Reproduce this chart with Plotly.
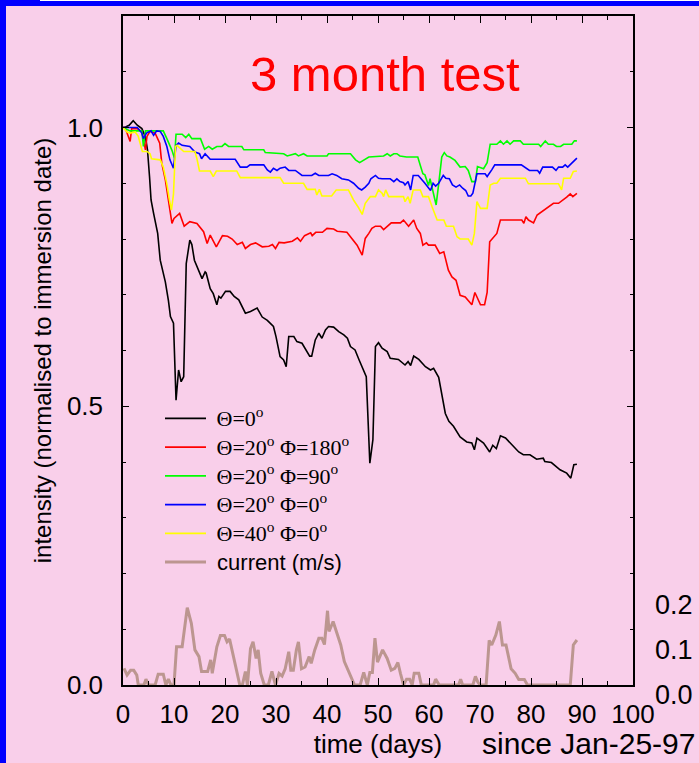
import plotly.graph_objects as go

# ---------------- data ----------------
DAYS_T0 = [0, 0.5, 1.2, 2, 2.8, 3.7, 4.4, 4.8, 5.2, 5.5, 6, 6.8, 7.3, 8.3, 8.9, 9.3, 9.9, 10.4, 10.9, 11.4,
           11.9, 12.4, 13.1, 13.5, 14, 15.5, 16.1, 16.3, 17.1, 17.7, 18.4, 18.8, 19.2, 20.1, 21, 21.8, 22.7, 24,
           25, 26.3, 27.3, 28.3, 29.5, 30, 30.8, 31.5, 32, 32.5, 33.5, 34.1, 35.1, 35.7, 36.6, 37, 37.7, 38.4,
           39, 39.7, 40.3, 41.3, 42.3, 43.3, 44, 44.6, 45.5, 46.3, 47.2, 47.7, 48.4, 49, 49.5, 50.1, 50.8, 51.8,
           52.4, 54, 55.3, 55.9, 56.4, 57, 58, 59.3, 60.3, 60.9, 61.9, 63.2, 63.9, 64.8, 66.1, 67.4, 68.4, 68.9,
           69.4, 70.7, 71.9, 72.5, 73.2, 74, 75, 76.3, 77.6, 78.5, 79.8, 81.1, 82.4, 82.7, 84, 85.7, 87, 87.8,
           88.4, 89]
VAL_T0 = [1.0, 1.001, 1.004, 1.012, 1.004, 0.998, 0.983, 0.96, 0.912, 0.87, 0.846, 0.81, 0.762, 0.723, 0.69,
          0.661, 0.649, 0.511, 0.565, 0.544, 0.553, 0.756, 0.798, 0.79, 0.762, 0.729, 0.741, 0.739, 0.711, 0.702,
          0.682, 0.697, 0.694, 0.706, 0.706, 0.697, 0.691, 0.667, 0.67, 0.676, 0.66, 0.654, 0.643, 0.625, 0.589,
          0.583, 0.571, 0.625, 0.625, 0.616, 0.613, 0.604, 0.59, 0.59, 0.619, 0.631, 0.622, 0.637, 0.643, 0.642,
          0.634, 0.628, 0.622, 0.607, 0.601, 0.583, 0.565, 0.553, 0.398, 0.44, 0.607, 0.614, 0.604, 0.598, 0.586,
          0.584, 0.574, 0.58, 0.573, 0.59, 0.584, 0.571, 0.565, 0.568, 0.552, 0.487, 0.473, 0.464, 0.445, 0.436,
          0.434, 0.422, 0.443, 0.434, 0.418, 0.43, 0.424, 0.447, 0.443, 0.43, 0.418, 0.413, 0.413, 0.405, 0.407,
          0.401, 0.399, 0.386, 0.38, 0.371, 0.395, 0.396]

DAYS_T20_P180 = [0, 0.4, 1.4, 1.7, 2.8, 3.7, 4.4, 4.7, 5.3, 6.3, 7.2, 7.6, 8.3, 8.9, 9.6, 10, 11.1, 12, 13.1,
                 14.5, 15.8, 16.5, 17.1, 18.3, 19.5, 20.5, 21.4, 22.4, 23.4, 24, 25, 26, 27.3, 28.6, 29.3, 29.9,
                 30.6, 31.6, 33.2, 34.2, 34.8, 35.6, 36.8, 37.1, 37.8, 39.1, 40, 41.3, 42, 43.9, 44.7, 45.9, 46.9,
                 47.5, 48.2, 48.8, 49.5, 50.5, 51.1, 51.8, 52.6, 54.4, 55, 56, 57, 57.6, 58.3, 58.8, 59.5, 59.9,
                 61.2, 62.1, 62.9, 63.8, 64.5, 65.3, 66.1, 67.1, 68.4, 69, 70.1, 70.9, 71.4, 71.9, 73.3, 74, 78.2,
                 78.6, 79, 79.5, 80.5, 81.2, 82.1, 83.1, 84.4, 85.4, 86.4, 87, 87.7, 88.2, 89]
VAL_T20_P180 = [1.0, 1.0, 0.975, 0.998, 0.998, 0.992, 0.96, 0.984, 0.993, 0.99, 0.972, 0.936, 0.906, 0.87, 0.828,
                0.837, 0.846, 0.823, 0.831, 0.828, 0.813, 0.792, 0.807, 0.786, 0.806, 0.805, 0.8, 0.79, 0.794,
                0.783, 0.79, 0.793, 0.786, 0.787, 0.79, 0.783, 0.794, 0.793, 0.796, 0.802, 0.796, 0.806, 0.811,
                0.806, 0.812, 0.812, 0.819, 0.818, 0.814, 0.812, 0.802, 0.789, 0.771, 0.801, 0.81, 0.819, 0.823,
                0.823, 0.817, 0.823, 0.829, 0.829, 0.834, 0.823, 0.834, 0.819, 0.81, 0.789, 0.793, 0.789, 0.789,
                0.774, 0.777, 0.744, 0.732, 0.726, 0.699, 0.696, 0.682, 0.704, 0.682, 0.682, 0.704, 0.795, 0.81,
                0.834, 0.834, 0.828, 0.84, 0.834, 0.829, 0.843, 0.849, 0.855, 0.864, 0.864, 0.87, 0.875, 0.881,
                0.876, 0.882]

DAYS_T20_P90 = [0, 1.4, 3.7, 4, 4.4, 7.9, 8.6, 9.6, 10.1, 10.4, 11.6, 12.3, 12.9, 13.5, 15.2, 16, 16.8, 17.5, 18.4,
                19.4, 20, 20.7, 23.3, 23.7, 27.6, 27.9, 31.5, 32.2, 33.8, 34.4, 35.4, 36.1, 40, 40.3, 44.6, 45.6,
                46.4, 47.2, 48.2, 51.1, 51.8, 52.4, 53.1, 53.7, 54.3, 55.6, 57.8, 58.3, 58.8, 59.2, 59.9, 60.2,
                61.4, 61.9, 62.5, 63, 63.5, 64.1, 65.1, 66.1, 67.1, 67.7, 68.4, 69.1, 69.5, 70.7, 71.4, 72, 73.3,
                74, 74.6, 75.3, 75.9, 76.6, 77.9, 78.5, 81.5, 81.9, 82.8, 83.4, 84.4, 85, 85.8, 86.4, 88, 88.5, 89]
VAL_T20_P90 = [1.0, 0.994, 0.994, 0.966, 0.994, 0.994, 0.98, 0.959, 0.945, 0.988, 0.988, 0.982, 0.988, 0.98,
               0.98, 0.961, 0.966, 0.961, 0.966, 0.966, 0.971, 0.966, 0.966, 0.96, 0.96, 0.955, 0.953, 0.949, 0.953,
               0.949, 0.953, 0.949, 0.949, 0.953, 0.953, 0.942, 0.937, 0.942, 0.947, 0.949, 0.953, 0.949, 0.953,
               0.953, 0.949, 0.947, 0.947, 0.932, 0.917, 0.915, 0.896, 0.908, 0.861, 0.899, 0.947, 0.955, 0.949,
               0.947, 0.941, 0.929, 0.93, 0.923, 0.903, 0.903, 0.93, 0.926, 0.937, 0.97, 0.97, 0.976, 0.97, 0.976,
               0.97, 0.976, 0.976, 0.97, 0.97, 0.966, 0.976, 0.97, 0.97, 0.966, 0.966, 0.97, 0.97, 0.976, 0.976]

DAYS_T20_P0 = [0, 2.8, 3.7, 4, 4.6, 5.5, 6, 6.6, 7.3, 7.9, 8.6, 9.2, 9.9, 10.4, 10.9, 11.6, 13.1, 14.1, 15, 15.4,
               16.1, 17.1, 22, 23, 24.3, 24.9, 27.6, 28.3, 28.9, 29.5, 30.2, 30.8, 31.8, 32.5, 33.8, 34.4, 35.1,
               37, 37.7, 38.4, 40.3, 41, 41.9, 42.9, 44.2, 45.2, 46.2, 46.8, 47.5, 48.2, 48.6, 49.5, 50.1, 50.8,
               52.4, 53.1, 53.7, 54.3, 55, 55.3, 55.9, 56.4, 56.9, 57.9, 58.5, 59.2, 60.3, 60.8, 61.3, 61.9, 62.8,
               63.3, 64, 64.6, 65.3, 66, 66.6, 67.2, 67.7, 68.2, 68.6, 69.4, 71, 71.4, 72.3, 72.9, 78.1, 78.7,
               79.7, 81.3, 81.7, 82.3, 84.2, 84.9, 85.4, 86.2, 86.7, 87.2, 87.8, 89]
VAL_T20_P0 = [1.0, 1.0, 0.99, 0.98, 0.99, 0.994, 0.986, 0.994, 0.993, 0.984, 0.966, 0.942, 0.927, 0.968, 0.972,
              0.968, 0.966, 0.956, 0.953, 0.944, 0.953, 0.943, 0.943, 0.929, 0.929, 0.933, 0.933, 0.924, 0.92,
              0.927, 0.923, 0.927, 0.929, 0.923, 0.923, 0.918, 0.914, 0.914, 0.918, 0.914, 0.914, 0.917, 0.914,
              0.908, 0.906, 0.9, 0.891, 0.888, 0.893, 0.9, 0.908, 0.914, 0.909, 0.908, 0.908, 0.903, 0.908, 0.903,
              0.901, 0.897, 0.903, 0.888, 0.914, 0.914, 0.908, 0.9, 0.887, 0.9, 0.895, 0.9, 0.914, 0.909, 0.908,
              0.897, 0.893, 0.897, 0.891, 0.887, 0.877, 0.877, 0.882, 0.917, 0.917, 0.912, 0.924, 0.933, 0.933,
              0.929, 0.923, 0.923, 0.918, 0.929, 0.929, 0.923, 0.929, 0.929, 0.933, 0.929, 0.935, 0.945]

DAYS_T40_P0 = [0, 0.8, 1.4, 2.4, 3, 3.8, 4.7, 5.3, 5.6, 7.3, 7.9, 8.6, 9.1, 9.5, 9.9, 10.3, 10.6, 11.6, 11.9,
               14.1, 14.5, 15, 17.1, 17.7, 18.3, 22.3, 23, 30.8, 31.5, 35.4, 36.1, 37.7, 38, 38.5, 39, 40.9, 41.8,
               44.2, 45.2, 46.2, 46.9, 47.5, 48.5, 49.5, 50.1, 50.8, 51.1, 51.5, 52.1, 55, 55.3, 55.9, 56.3, 56.9,
               58.3, 58.8, 59.9, 60.6, 61.6, 62.9, 63.4, 64.8, 65.5, 66.1, 67.7, 68.4, 68.9, 69.4, 70.1, 71.4, 72,
               72.7, 73.3, 74, 78.9, 79.5, 85.4, 86, 86.4, 87.7, 88.3, 89]
VAL_T40_P0 = [1.0, 0.992, 0.99, 0.992, 0.984, 0.957, 0.957, 0.953, 0.944, 0.942, 0.929, 0.899, 0.87, 0.852, 0.881,
              0.966, 0.968, 0.96, 0.957, 0.957, 0.944, 0.922, 0.922, 0.912, 0.922, 0.922, 0.91, 0.91, 0.9, 0.9,
              0.889, 0.889, 0.879, 0.889, 0.877, 0.877, 0.888, 0.888, 0.87, 0.856, 0.844, 0.864, 0.876, 0.876,
              0.888, 0.882, 0.876, 0.888, 0.876, 0.876, 0.867, 0.876, 0.864, 0.888, 0.888, 0.876, 0.876, 0.858,
              0.834, 0.834, 0.823, 0.823, 0.804, 0.8, 0.8, 0.789, 0.81, 0.867, 0.855, 0.855, 0.897, 0.9, 0.9,
              0.909, 0.909, 0.899, 0.899, 0.888, 0.909, 0.909, 0.921, 0.922]

DAYS_CURRENT = [0.2, 0.8, 1.5, 2.1, 2.7, 3, 4.1, 4.5, 5, 6.3, 6.9, 7.9, 8.4, 8.9, 9.4, 10, 10.5, 11.6, 12.6, 13.4,
                14.1, 14.9, 15.4, 16.6, 17.2, 17.5, 18.4, 19.1, 19.9, 20.4, 20.9, 21.4, 22.2, 22.9, 23.4, 24, 24.4,
                25, 25.5, 26.1, 26.5, 27, 27.7, 28.5, 29.2, 29.9, 30.6, 31.2, 31.8, 32.5, 32.9, 33.4, 34, 34.4, 35,
                35.7, 36.5, 36.9, 37.6, 38.4, 39, 39.5, 40.1, 40.4, 41.2, 41.9, 42.7, 43.4, 44.6, 45.4, 46.5, 47.2,
                47.9, 48.4, 48.9, 49.4, 49.9, 50.9, 51.8, 52.6, 53.3, 53.9, 54.4, 55, 55.6, 56.2, 56.7, 57.1, 58,
                58.5, 60.9, 61.3, 62, 65.8, 66.2, 66.6, 68.6, 69.1, 69.6, 70, 71.2, 71.8, 72.3, 73.1, 73.8, 74.4,
                75.1, 75.6, 76.1, 76.9, 77.6, 78.7, 79.3, 87.7, 88.3, 89]
VAL_CURRENT = [0.037, 0.022, 0.033, 0.033, 0.022, 0, 0, 0.013, 0, 0, 0.024, 0.024, 0, 0.013, 0, 0, 0.085, 0.085,
               0.172, 0.137, 0.078, 0.063, 0.03, 0.03, 0.056, 0.026, 0.085, 0.11, 0.11, 0.096, 0.102, 0.078, 0.036,
               0, 0, 0.03, 0, 0.081, 0.096, 0.059, 0.078, 0.026, 0, 0, 0.03, 0, 0.026, 0.02, 0.036, 0.074, 0.033,
               0.033, 0.078, 0.096, 0.036, 0.04, 0.063, 0.048, 0.078, 0.104, 0.104, 0.09, 0.165, 0.119, 0.141,
               0.115, 0.089, 0.052, 0.019, 0, 0, 0.028, 0, 0.028, 0.028, 0.104, 0.051, 0.078, 0.059, 0.033, 0.037,
               0.05, 0.026, 0, 0.013, 0.013, 0, 0.026, 0.026, 0, 0, 0.013, 0, 0, 0.013, 0, 0, 0.019, 0.006, 0, 0,
               0.099, 0.089, 0.111, 0.141, 0.089, 0.089, 0.059, 0.036, 0.026, 0.012, 0.012, 0, 0, 0.089, 0.1]

SERIES_NAMES = ["Θ=0<sup>o</sup>",
                "Θ=20<sup>o</sup> Φ=180<sup>o</sup>",
                "Θ=20<sup>o</sup> Φ=90<sup>o</sup>",
                "Θ=20<sup>o</sup> Φ=0<sup>o</sup>",
                "Θ=40<sup>o</sup> Φ=0<sup>o</sup>",
                "current (m/s)"]
SERIES_COLORS = ["#000000", "#FF0000", "#00FF00", "#0000FF", "#FFFF00", "#BC9690"]

LEFT_TICKS = [0.0, 0.5, 1.0]
LEFT_TICK_TEXT = ["0.0", "0.5", "1.0"]
RIGHT_TICKS = [0.0, 0.1, 0.2]
RIGHT_TICK_TEXT = ["0.0", "0.1", "0.2"]
X_TICKS = [0, 10, 20, 30, 40, 50, 60, 70, 80, 90, 100]

TITLE = "3 month test"
X_TITLE = "time (days)"
X_NOTE = "since Jan-25-97"
Y_TITLE = "intensity (normalised to immersion date)"

# ---------------- figure ----------------
W, H = 699, 763
ML, MR, MT, MB = 123, 66, 16, 78
PW, PH = W - ML - MR, H - MT - MB

def px_x(p):
    return (p - ML) / PW

def px_y(p):
    return (H - MB - p) / PH

PINK = "#F9CFEA"
SANS = "Liberation Sans, Arial, Helvetica, sans-serif"
SERIF = "Liberation Serif, Times New Roman, serif"

def legend_label(name, family=None):
    style = "font-size:22px"
    if family:
        style += ";font-family:" + family
    return '<span style="%s">\u00a0%s</span>' % (style, name)

pairs = [(DAYS_T0, VAL_T0), (DAYS_T20_P180, VAL_T20_P180), (DAYS_T20_P90, VAL_T20_P90),
         (DAYS_T20_P0, VAL_T20_P0), (DAYS_T40_P0, VAL_T40_P0)]
for d, v in pairs + [(DAYS_CURRENT, VAL_CURRENT)]:
    assert len(d) == len(v), (len(d), len(v))

fig = go.Figure()
for (d, v), name, col in zip(pairs, SERIES_NAMES[:5], SERIES_COLORS[:5]):
    fig.add_trace(go.Scatter(x=d, y=v, mode="lines", name=legend_label(name),
                             line=dict(color=col, width=1.6), yaxis="y"))
fig.add_trace(go.Scatter(x=DAYS_CURRENT, y=VAL_CURRENT, mode="lines",
                         name=legend_label(SERIES_NAMES[5], "Liberation Sans, Arial, sans-serif"),
                         line=dict(color=SERIES_COLORS[5], width=3), yaxis="y2"))

Y2_MAX = PH / 450.0  # 0.1 m/s spans 45 px

annotations = [
    dict(text=TITLE, xref="paper", yref="paper", x=px_x(385), y=px_y(74), xanchor="center", yanchor="middle",
         showarrow=False, font=dict(family=SANS, size=49, color="#FF0000")),
    dict(text=X_NOTE, xref="paper", yref="paper", x=px_x(697), y=px_y(762), xanchor="right", yanchor="bottom",
         showarrow=False, font=dict(family=SANS, size=30, color="#000000")),
]
for v, t in zip(RIGHT_TICKS, RIGHT_TICK_TEXT):
    annotations.append(dict(text=t, xref="paper", yref="y2", x=px_x(673.5), y=v, yshift=-10,
                            xanchor="center", yanchor="middle", showarrow=False,
                            font=dict(family=SANS, size=27, color="#000000")))

shapes = [
    dict(type="rect", xref="paper", yref="paper", x0=px_x(0), x1=px_x(W), y0=px_y(6), y1=px_y(0),
         fillcolor="#0000FF", line=dict(width=0), layer="above"),
    dict(type="rect", xref="paper", yref="paper", x0=px_x(40), x1=px_x(W), y0=px_y(1), y1=px_y(0),
         fillcolor="#FFFFFF", line=dict(width=0), layer="above"),
    dict(type="rect", xref="paper", yref="paper", x0=px_x(0), x1=px_x(6), y0=px_y(H), y1=px_y(0),
         fillcolor="#0000FF", line=dict(width=0), layer="above"),
]

fig.update_layout(
    width=W, height=H,
    autosize=False,
    margin=dict(l=ML, r=MR, t=MT, b=MB, pad=0, autoexpand=False),
    paper_bgcolor=PINK, plot_bgcolor=PINK,
    showlegend=True,
    legend=dict(x=px_x(160), y=px_y(399), xanchor="left", yanchor="top",
                bgcolor="rgba(0,0,0,0)", borderwidth=0, itemwidth=41,
                font=dict(family=SERIF, size=19.8, color="#000000"),
                tracegroupgap=0),
    xaxis=dict(range=[0, 100], tickvals=X_TICKS, ticks="inside", ticklen=7, tickwidth=1.2,
               tickcolor="#000000", showline=True, linecolor="#000000", linewidth=1.5, mirror="ticks",
               showgrid=False, zeroline=False, ticklabelstandoff=5, automargin=False,
               tickfont=dict(family=SANS, size=26, color="#000000"),
               minor=dict(dtick=5, tick0=0, ticks="inside", ticklen=4, tickcolor="#000000", showgrid=False),
               title=dict(text=X_TITLE, font=dict(family=SANS, size=26, color="#000000"), standoff=4)),
    yaxis=dict(range=[0, 1.2], tickvals=LEFT_TICKS, ticktext=LEFT_TICK_TEXT, ticks="inside", ticklen=6,
               tickwidth=1.2, tickcolor="#000000", showline=True, linecolor="#000000", linewidth=1.5,
               mirror="ticks", showgrid=False, zeroline=False, ticklabelstandoff=13, automargin=False,
               tickfont=dict(family=SANS, size=26, color="#000000"),
               minor=dict(dtick=0.1, tick0=0, ticks="inside", ticklen=3, tickcolor="#000000", showgrid=False),
               title=dict(text=Y_TITLE, font=dict(family=SANS, size=24, color="#000000"), standoff=8)),
    yaxis2=dict(range=[0, Y2_MAX], overlaying="y", side="right", showticklabels=False, ticks="",
                showgrid=False, zeroline=False, showline=False, automargin=False),
    annotations=annotations,
    shapes=shapes,
)

fig.write_html("out.html")
